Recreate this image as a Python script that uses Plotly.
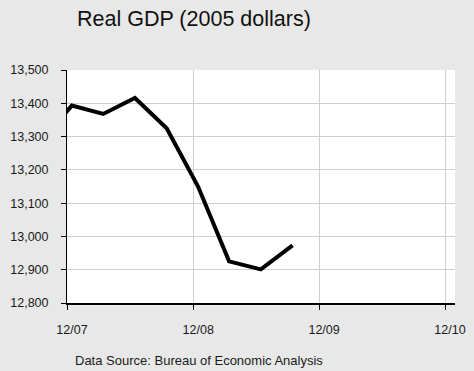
import plotly.graph_objects as go

# Data (quarterly real GDP, billions of 2005 dollars)
dates = ["2007-09-15", "2007-12-15", "2008-03-15", "2008-06-15", "2008-09-15",
         "2008-12-15", "2009-03-15", "2009-06-15", "2009-09-15"]
gdp = [13285, 13393, 13368, 13416, 13325, 13150, 12925, 12901, 12973]

x_tick_vals = ["2007-12-01", "2008-12-01", "2009-12-01", "2010-12-01"]
x_tick_text = ["12/07", "12/08", "12/09", "12/10"]
y_tick_vals = [12800, 12900, 13000, 13100, 13200, 13300, 13400, 13500]

FONT = "Liberation Sans, Arial, sans-serif"

fig = go.Figure()
fig.add_trace(go.Scatter(
    x=dates, y=gdp, mode="lines",
    line=dict(color="black", width=4),
    hoverinfo="skip", showlegend=False,
))

fig.update_layout(
    width=474, height=371,
    margin=dict(l=67, r=19, t=70, b=68),
    paper_bgcolor="#e8e8e8",
    plot_bgcolor="white",
    font=dict(family=FONT, size=12.5, color="#1a1a1a"),
    title=dict(text="Real GDP (2005 dollars)", font=dict(family=FONT, size=21.5, color="#111111"),
               x=77/474, xanchor="left", xref="container",
               y=1 - 18/371, yanchor="middle", yref="container"),
    xaxis=dict(
        type="date", range=["2007-12-01", "2010-12-30"],
        tickvals=x_tick_vals, ticktext=x_tick_text,
        tickfont=dict(size=12.5), automargin=False,
        showgrid=True, gridcolor="#d0d0d0", gridwidth=1,
        showline=True, linecolor="black", linewidth=2,
        ticks="outside", ticklen=5, tickcolor="black", tickwidth=1,
        ticklabelstandoff=9, ticklabelshift=5,
        zeroline=False, fixedrange=True,
    ),
    yaxis=dict(
        range=[12800, 13500], tickvals=y_tick_vals, tickformat=",",
        automargin=False,
        showgrid=True, gridcolor="#d0d0d0", gridwidth=1,
        showline=True, linecolor="black", linewidth=1,
        ticks="outside", ticklen=5, tickcolor="black", tickwidth=1,
        ticklabelstandoff=10,
        zeroline=False, fixedrange=True,
    ),
    annotations=[dict(
        text="Data Source: Bureau of Economic Analysis",
        xref="paper", yref="paper", x=(73-67)/388, y=(303-360)/233,
        xanchor="left", yanchor="middle", showarrow=False,
        font=dict(family=FONT, size=13, color="#1a1a1a"),
    )],
)

fig.write_html("out.html")
